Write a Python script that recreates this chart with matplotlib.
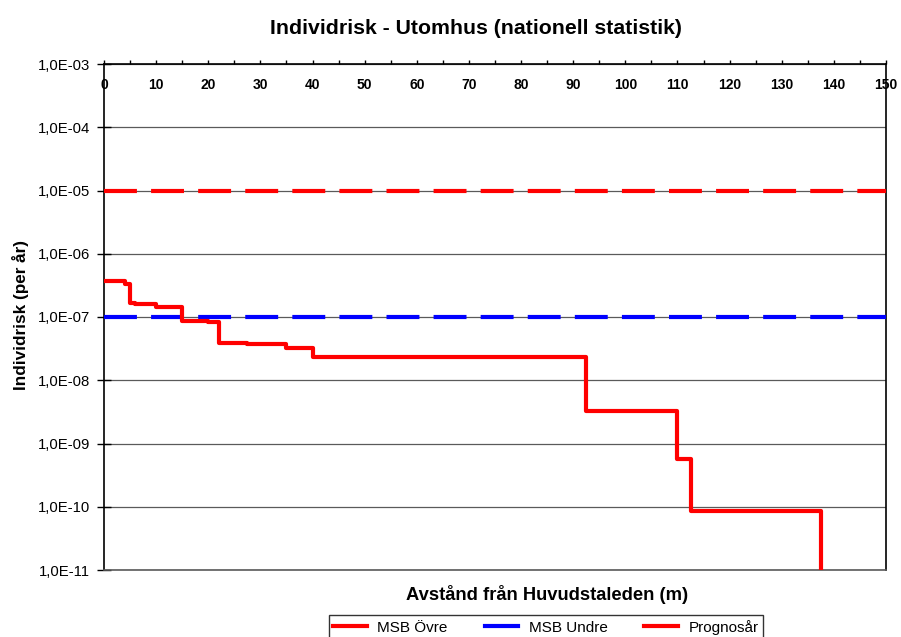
import matplotlib
matplotlib.use("Agg")
import matplotlib.pyplot as plt
from matplotlib.lines import Line2D
from matplotlib.ticker import FixedLocator, MultipleLocator, FuncFormatter

plt.rcParams["font.family"] = ["Liberation Sans", "DejaVu Sans"]

# Prognosår step curve (distance in m, risk per year)
dist = [0, 4, 5, 6, 10, 15, 20, 22, 27.5, 35, 40, 92.5, 110, 112.5, 137.5]
risk = [3.75e-7, 3.3e-7, 1.68e-7, 1.58e-7, 1.46e-7, 8.5e-8, 8.2e-8, 3.9e-8,
        3.75e-8, 3.2e-8, 2.3e-8, 3.3e-9, 5.6e-10, 8.6e-11, 1e-12]

msb_x = [0, 150]
msb_upper = [1e-5, 1e-5]
msb_lower = [1e-7, 1e-7]

y_ticks = [1e-11, 1e-10, 1e-9, 1e-8, 1e-7, 1e-6, 1e-5, 1e-4, 1e-3]
x_ticks = list(range(0, 151, 10))

W, H = 901, 637
fig = plt.figure(figsize=(W / 100, H / 100), dpi=100)
ax = fig.add_axes([104 / W, 1 - 570 / H, (886 - 104) / W, (570 - 64) / H])

ax.set_yscale("log")
ax.set_xlim(0, 150)
ax.set_ylim(1e-11, 1e-3)

for y in y_ticks:
    ax.axhline(y, color="#5a5a5a", lw=0.9, zorder=1)

ax.plot(msb_x, msb_upper, color="#ff0000", lw=3, dashes=(7.9, 3.4), zorder=3)
ax.plot(msb_x, msb_lower, color="#0000ff", lw=3, dashes=(7.9, 3.4), zorder=3)
ax.step(dist, risk, where="post", color="#ff0000", lw=3, zorder=4)

ax.yaxis.set_major_locator(FixedLocator(y_ticks))
ax.yaxis.set_minor_locator(FixedLocator([]))
ax.yaxis.set_major_formatter(FuncFormatter(lambda v, p: f"{v:.1E}".replace(".", ",")))
ax.tick_params(axis="y", direction="inout", length=9.4, width=1, labelsize=10.7, pad=5.3)

ax.xaxis.set_major_locator(FixedLocator(x_ticks))
ax.xaxis.set_minor_locator(MultipleLocator(5))
ax.tick_params(axis="x", which="both", top=True, bottom=False, labeltop=True,
               labelbottom=False, direction="out", length=3, width=1,
               labelsize=10, pad=-23)
for lab in ax.get_xticklabels():
    lab.set_fontweight("bold")
    lab.set_verticalalignment("bottom")

for side in ["left", "top", "right"]:
    ax.spines[side].set_color("black")
    ax.spines[side].set_linewidth(1.2)
ax.spines["bottom"].set_color("#5a5a5a")
ax.spines["bottom"].set_linewidth(1.2)

fig.text(21 / W, 1 - 315 / H, "Individrisk (per år)", rotation=90, ha="center",
         va="center", fontsize=12.3, fontweight="bold")
fig.text(547 / W, 1 - 595 / H, "Avstånd från Huvudstaleden (m)", ha="center",
         va="center", fontsize=13.2, fontweight="bold")
fig.text(476 / W, 1 - 28 / H, "Individrisk - Utomhus (nationell statistik)",
         ha="center", va="center", fontsize=15.3, fontweight="bold")

handles = [
    Line2D([], [], color="#ff0000", lw=3),
    Line2D([], [], color="#0000ff", lw=3),
    Line2D([], [], color="#ff0000", lw=3),
]
fig.legend(handles, ["MSB Övre", "MSB Undre", "Prognosår"], loc="upper center",
           bbox_to_anchor=(546 / W, 1 - 615 / H), ncol=3, frameon=True,
           fancybox=False, edgecolor="black", fontsize=11, handlelength=2.2,
           columnspacing=2.4, borderpad=0.3, handletextpad=0.7, borderaxespad=0)

fig.savefig("out.png", dpi=100)
